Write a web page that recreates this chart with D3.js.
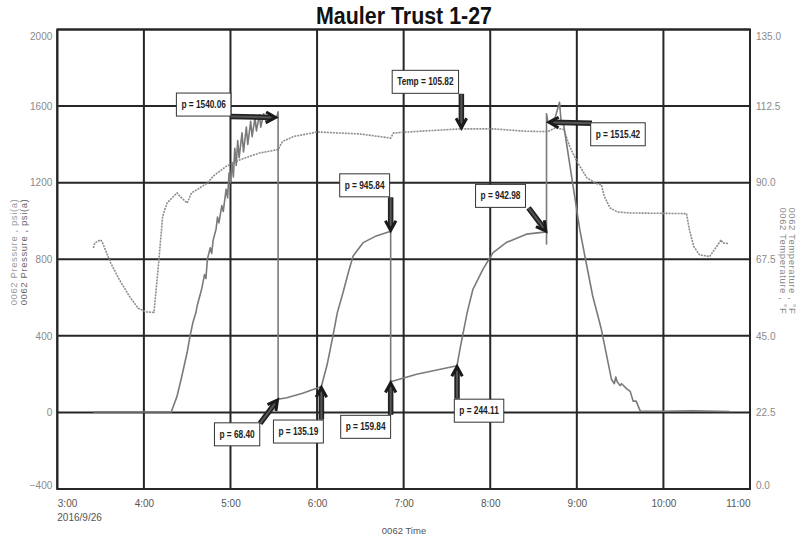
<!DOCTYPE html>
<html>
<head>
<meta charset="utf-8">
<script src="https://cdn.jsdelivr.net/npm/d3@7"></script>
<style>
  html, body { margin: 0; padding: 0; background: #fff; }
  svg { display: block; font-family: "Liberation Sans", Arial, sans-serif; }
</style>
</head>
<body>
<svg id="chart" width="809" height="539"></svg>
<script>
// ---------------- DATA ----------------
const title = "Mauler Trust 1-27";
const dateLabel = "2016/9/26";
const timeTicks = ["3:00","4:00","5:00","6:00","7:00","8:00","9:00","10:00","11:00"];
const pressureTicks = [-400, 0, 400, 800, 1200, 1600, 2000];
const temperatureTicks = [0.0, 22.5, 45.0, 67.5, 90.0, 112.5, 135.0];

// Pressure (psi(a)) series: time, value
const pressureTimes = [
  "3:25","4:19","4:23","4:26","4:30","4:32","4:34","4:36","4:37","4:40",
  "4:42","4:43","4:44","4:46","4:47","4:48","4:50","4:51","4:52","4:54",
  "4:55","4:57","4:58","4:59","5:00","5:01","5:02","5:03","5:04","5:05",
  "5:06","5:08","5:09","5:11","5:12","5:14","5:15","5:17","5:18","5:20",
  "5:21","5:23","5:25","5:27","5:29","5:31","5:32","5:33","5:33","5:39",
  "5:50","6:03","6:07","6:11","6:14","6:18","6:22","6:25","6:32","6:41",
  "6:51","6:51","7:09","7:37","7:39","7:44","7:48","7:55","8:02","8:11",
  "8:25","8:39","8:39","8:39","8:40","8:45","8:48","8:49","8:51","9:02",
  "9:06","9:11","9:17","9:24","9:26","9:27","9:28","9:30","9:31","9:35",
  "9:37","9:39","9:41","9:44","10:00","10:20","10:46"
];
const pressureValues = [
  2, 3, 85, 180, 314, 400, 471, 520, 560, 643,
  720, 700, 800, 860, 830, 900, 957, 1020, 990, 1080,
  1050, 1166, 1120, 1250, 1200, 1307, 1230, 1380, 1290, 1420,
  1330, 1460, 1360, 1490, 1400, 1520, 1440, 1540, 1470, 1555,
  1490, 1560, 1510, 1555, 1530, 1545, 1540.06, 1570, 68.4, 77,
  100, 135.19, 250, 399, 520, 626, 740, 817, 887, 922,
  945.84, 159.84, 199, 244.11, 329, 521, 643, 748, 835, 887,
  931, 942.98, 880, 1560, 1515.42, 1540, 1620, 1530, 1497, 957,
  800, 608, 434, 173, 150, 185, 160, 140, 150, 120,
  110, 59, 60, 7, 6, 8, 5
];

// Temperature (°F) series: time, value
const temperatureTimes = [
  "3:25","3:26","3:30","3:31","3:37","3:43","3:50","3:56","4:02","4:07",
  "4:10","4:13","4:16","4:23","4:25","4:30","4:33","4:37","4:44","4:48",
  "4:57","5:07","5:20","5:33","5:36","5:44","5:53","6:00","6:30","6:51",
  "6:53","7:11","7:40","8:02","8:25","8:40","8:45","8:51","8:55","9:00",
  "9:07","9:14","9:17","9:19","9:23","9:28","9:37","10:16","10:18","10:21",
  "10:25","10:32","10:37","10:40","10:41","10:45"
];
const temperatureValues = [
  70.8, 72.3, 73.2, 72.7, 66.4, 61.5, 56.6, 53.1, 52.0, 51.9,
  65.4, 80.1, 84.0, 87.0, 86.0, 84.0, 87.0, 88.0, 89.9, 91.9,
  94.8, 96.8, 98.7, 99.7, 102.1, 103.6, 104.3, 104.9, 104.3, 103.1,
  104.6, 105.1, 105.82, 105.8, 105.1, 105.0, 106.1, 105.6, 100.7, 96.3,
  91.4, 89.7, 89.4, 86.0, 82.6, 81.4, 81.1, 80.9, 76.2, 71.3,
  68.8, 68.3, 71.3, 73.2, 72.3, 72.1
];

// Annotations: label, time, value, series
const annotationLabels = ["p = 1540.06","Temp = 105.82","p = 945.84","p = 1515.42","p = 942.98","p = 68.40","p = 135.19","p = 159.84","p = 244.11"];
const annotationTimes  = ["5:32","7:40","6:51","8:40","8:39","5:33","6:03","6:51","7:37"];
const annotationValues = [1540.06, 105.82, 945.84, 1515.42, 942.98, 68.40, 135.19, 159.84, 244.11];
const annotationSeries = ["p","t","p","p","p","p","p","p","p"];

// Layout of annotation boxes (offsets from the pointed data point, pixels)
const annotationLayout = [
  {bx:-73,  by:-13, ax:-46, ay:-1},
  {bx:-36,  by:-47, ax:0,   ay:-35},
  {bx:-26,  by:-46, ax:0,   ay:-34},
  {bx:70,   by:12,  ax:44,  ay:1},
  {bx:-46,  by:-36, ax:-18, ay:-24},
  {bx:-41,  by:35,  ax:-18, ay:24},
  {bx:-23,  by:45,  ax:0,   ay:33},
  {bx:-25,  by:45,  ax:0,   ay:33},
  {bx:22,   by:45,  ax:0,   ay:33}
];

// ---------------- CHART ----------------
const parseT = s => { const [h, m] = s.split(":").map(Number); return new Date(2016, 8, 26, h, m); };

const svg = d3.select("#chart");
const L = 57.3, R = 750, T = 29.5, B = 489;

const x = d3.scaleTime().domain([parseT("3:00"), parseT("11:00")]).range([L, R]);
const yP = d3.scaleLinear().domain([-400, 2000]).range([B, T]);
const yT = d3.scaleLinear().domain([0, 135]).range([B, T]);

const gridColor = "#262626";

// Gridlines
const grid = svg.append("g");
grid.selectAll("line.h").data(pressureTicks).join("line")
  .attr("x1", L).attr("x2", R)
  .attr("y1", d => yP(d)).attr("y2", d => yP(d))
  .attr("stroke", gridColor).attr("stroke-width", 2);
grid.selectAll("line.v").data(timeTicks).join("line")
  .attr("y1", T).attr("y2", B)
  .attr("x1", d => x(parseT(d))).attr("x2", d => x(parseT(d)))
  .attr("stroke", gridColor).attr("stroke-width", 2);

// Left axis labels
const leftAxis = d3.axisLeft(yP).tickValues(pressureTicks).tickSize(0).tickPadding(5).tickFormat(d3.format("d"));
const gl = svg.append("g").attr("transform", `translate(${L},0)`).call(leftAxis);
gl.select(".domain").remove();
gl.selectAll("text").attr("fill", "#8a8a8a").attr("font-size", 10)
  .attr("font-family", "Liberation Sans, Arial, sans-serif")
  .attr("y", d => Math.min(Math.max(yP(d), 36), 485) - yP(d));

// Right axis labels
const rightAxis = d3.axisRight(yT).tickValues(temperatureTicks).tickSize(0).tickPadding(6).tickFormat(d3.format(".1f"));
const gr = svg.append("g").attr("transform", `translate(${R},0)`).call(rightAxis);
gr.select(".domain").remove();
gr.selectAll("text").attr("fill", "#8a8a8a").attr("font-size", 10)
  .attr("font-family", "Liberation Sans, Arial, sans-serif")
  .attr("y", d => Math.min(Math.max(yT(d), 36), 485) - yT(d));

// Bottom axis labels
const bottomAxis = d3.axisBottom(x).tickValues(timeTicks.map(parseT)).tickSize(0).tickPadding(11)
  .tickFormat(d3.timeFormat("%-H:%M"));
const gb = svg.append("g").attr("transform", `translate(0,${B})`).call(bottomAxis);
gb.select(".domain").remove();
gb.selectAll("text").attr("fill", "#555").attr("font-size", 10)
  .attr("font-family", "Liberation Sans, Arial, sans-serif")
  .attr("text-anchor", (d, i, n) => i === 0 ? "start" : (i === n.length - 1 ? "end" : "middle"));

svg.append("text").attr("x", L).attr("y", 521).attr("fill", "#555").attr("font-size", 10)
  .text(dateLabel);
svg.append("text").attr("x", 404).attr("y", 534).attr("text-anchor", "middle")
  .attr("fill", "#555").attr("font-size", 9.5).text("0062 Time");

// Axis titles
const lt = svg.append("g").attr("transform", "translate(17,252) rotate(-90)");
lt.append("text").attr("text-anchor", "middle").attr("fill", "#9a9a9a").attr("font-size", 9.5)
  .attr("letter-spacing", 0.6).text("0062 Pressure , psi(a)");
lt.append("text").attr("y", 10).attr("text-anchor", "middle").attr("fill", "#666").attr("font-size", 9.5)
  .attr("letter-spacing", 0.6).text("0062 Pressure , psi(a)");
const rt = svg.append("g").attr("transform", "translate(789,261) rotate(90)");
rt.append("text").attr("text-anchor", "middle").attr("fill", "#888").attr("font-size", 9.5)
  .attr("letter-spacing", 0.6).text("0062 Temperature , °F");
rt.append("text").attr("y", 9).attr("text-anchor", "middle").attr("fill", "#888").attr("font-size", 9.5)
  .attr("letter-spacing", 0.6).text("0062 Temperature , °F");

// Series
const pressure = pressureTimes.map((t, i) => ({t: parseT(t), v: pressureValues[i]}));
const temperature = temperatureTimes.map((t, i) => ({t: parseT(t), v: temperatureValues[i]}));

svg.append("path").datum(temperature)
  .attr("fill", "none").attr("stroke", "#8c8c8c").attr("stroke-width", 1.6)
  .attr("stroke-dasharray", "2,1")
  .attr("d", d3.line().x(d => x(d.t)).y(d => yT(d.v)));

svg.append("path").datum(pressure)
  .attr("fill", "none").attr("stroke", "#7a7a7a").attr("stroke-width", 1.6)
  .attr("stroke-linejoin", "round")
  .attr("d", d3.line().x(d => x(d.t)).y(d => yP(d.v)));

// Plot border
svg.append("rect").attr("x", L).attr("y", T).attr("width", R - L).attr("height", B - T)
  .attr("fill", "none").attr("stroke", gridColor).attr("stroke-width", 2);

// Title
svg.append("text").attr("x", 404).attr("y", 24).attr("text-anchor", "middle")
  .attr("font-size", 23).attr("font-weight", "bold").attr("fill", "#111")
  .attr("textLength", 176).attr("lengthAdjust", "spacingAndGlyphs").text(title);

// Annotations
const ann = annotationLabels.map((lab, i) => {
  const px = x(parseT(annotationTimes[i]));
  const py = annotationSeries[i] === "t" ? yT(annotationValues[i]) : yP(annotationValues[i]);
  return {lab, px, py, ...annotationLayout[i]};
});

const ag = svg.append("g");
ann.forEach(a => {
  const sx = a.px + a.ax, sy = a.py + a.ay;
  const ang = Math.atan2(a.py - sy, a.px - sx);
  const tipx = a.px - Math.cos(ang) * 1, tipy = a.py - Math.sin(ang) * 1;
  const headLen = 11, spread = 0.5;
  ag.append("line").attr("x1", sx).attr("y1", sy)
    .attr("x2", tipx - Math.cos(ang) * 3).attr("y2", tipy - Math.sin(ang) * 3)
    .attr("stroke", "#222").attr("stroke-width", 5.5);
  ag.append("line").attr("x1", sx).attr("y1", sy)
    .attr("x2", tipx - Math.cos(ang) * 4).attr("y2", tipy - Math.sin(ang) * 4)
    .attr("stroke", "#555").attr("stroke-width", 2);
  const h1x = tipx - headLen * Math.cos(ang - spread), h1y = tipy - headLen * Math.sin(ang - spread);
  const h2x = tipx - headLen * Math.cos(ang + spread), h2y = tipy - headLen * Math.sin(ang + spread);
  ag.append("path").attr("d", `M${h1x},${h1y}L${tipx},${tipy}L${h2x},${h2y}`)
    .attr("fill", "none").attr("stroke", "#1a1a1a").attr("stroke-width", 3)
    .attr("stroke-linejoin", "miter");
});
ann.forEach(a => {
  const cx = a.px + a.bx, cy = a.py + a.by;
  const g = ag.append("g");
  const txt = g.append("text").attr("x", cx).attr("y", cy + 3.5).attr("text-anchor", "middle")
    .attr("font-size", 10).attr("font-weight", "bold").attr("fill", "#222")
    .attr("font-family", "Liberation Sans, Arial, sans-serif")
    .text(a.lab);
  const w = txt.node().getComputedTextLength() * 0.83;
  txt.attr("textLength", w).attr("lengthAdjust", "spacingAndGlyphs");
  g.insert("rect", "text").attr("x", cx - w / 2 - 5).attr("y", cy - 11.5)
    .attr("width", w + 10).attr("height", 23)
    .attr("fill", "#fff").attr("stroke", "#333").attr("stroke-width", 1);
});
</script>
</body>
</html>
